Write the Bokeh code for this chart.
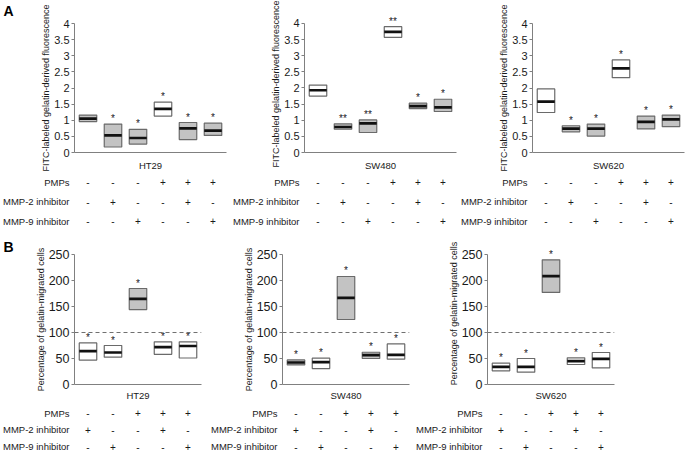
from bokeh.plotting import figure
from bokeh.models import (Range1d, FixedTicker, Span, NumeralTickFormatter,
                          ColumnDataSource, Title)
from bokeh.layouts import column, row
from bokeh.embed import file_html
from bokeh.resources import INLINE
from bokeh.core.properties import value

# ---------------- data ----------------
ROW_NAMES = ["PMPs", "MMP-2 inhibitor", "MMP-9 inhibitor"]
A_YLABEL = "FITC-labeled gelatin-derived fluorescence"
B_YLABEL = "Percentage of gelatin-migrated cells"
A_YTICKS = [0, 0.5, 1, 1.5, 2, 2.5, 3, 3.5, 4]
B_YTICKS = [0, 50, 100, 150, 200, 250]
B_REF_LINE = 100

# Panel A (6 conditions)
A_PMPS = ["-", "-", "-", "+", "+", "+"]
A_MMP2 = ["-", "+", "-", "-", "+", "-"]
A_MMP9 = ["-", "-", "+", "-", "-", "+"]

A_HT29_LOW = [0.96, 0.17, 0.26, 1.13, 0.40, 0.53]
A_HT29_MED = [1.05, 0.53, 0.45, 1.35, 0.75, 0.68]
A_HT29_HIGH = [1.16, 0.88, 0.72, 1.56, 0.93, 0.91]
A_HT29_FILL = ["gray", "gray", "gray", "white", "gray", "gray"]
A_HT29_SIG = ["", "*", "*", "*", "*", "*"]

A_SW480_LOW = [1.75, 0.72, 0.62, 3.57, 1.36, 1.27]
A_SW480_MED = [1.93, 0.79, 0.90, 3.74, 1.44, 1.40]
A_SW480_HIGH = [2.09, 0.89, 1.01, 3.90, 1.53, 1.65]
A_SW480_FILL = ["white", "gray", "gray", "white", "gray", "gray"]
A_SW480_SIG = ["", "**", "**", "**", "*", "*"]

A_SW620_LOW = [1.24, 0.64, 0.51, 2.32, 0.73, 0.80]
A_SW620_MED = [1.58, 0.74, 0.74, 2.61, 0.95, 1.03]
A_SW620_HIGH = [1.97, 0.83, 0.88, 2.87, 1.13, 1.16]
A_SW620_FILL = ["white", "gray", "gray", "white", "gray", "gray"]
A_SW620_SIG = ["", "*", "*", "*", "*", "*"]

# Panel B (5 conditions)
B_PMPS = ["-", "-", "+", "+", "+"]
B_MMP2 = ["+", "-", "-", "+", "-"]
B_MMP9 = ["-", "+", "-", "-", "+"]

B_HT29_LOW = [47, 52.5, 144, 58, 51]
B_HT29_MED = [64, 61.5, 164.6, 71.7, 74]
B_HT29_HIGH = [80, 75, 184.6, 82, 82]
B_HT29_FILL = ["white", "white", "gray", "white", "white"]
B_HT29_SIG = ["*", "*", "*", "*", "*"]

B_SW480_LOW = [37.7, 30.7, 125, 50, 48.7]
B_SW480_MED = [42.3, 42.9, 166.5, 56.3, 57]
B_SW480_HIGH = [47.3, 50.6, 207.7, 62, 78]
B_SW480_FILL = ["gray", "white", "gray", "gray", "white"]
B_SW480_SIG = ["*", "*", "*", "*", "*"]

B_SW620_LOW = [26.3, 23.7, 177, 38.5, 31.9]
B_SW620_MED = [33.9, 33.9, 208.3, 44.8, 49.3]
B_SW620_HIGH = [41, 50, 239.7, 51.3, 61.5]
B_SW620_FILL = ["white", "white", "gray", "white", "white"]
B_SW620_SIG = ["*", "*", "*", "*", "*"]

A_TABLE = [A_PMPS, A_MMP2, A_MMP9]
B_TABLE = [B_PMPS, B_MMP2, B_MMP9]

# ---------------- style ----------------
FONT = "Liberation Sans"
FILLS = {"gray": "#c3c3c3", "white": "#ffffff"}
BOX_W = 0.70
X_START = 0.46
AXIS_COL = "#808080"
TXT_COL = "#1a1a1a"


def plot_fig(cell, low, med, high, fills, sig, *, width, bl, br, bt, fh, bb, x_end,
             yticks, ylabel, tick_fs, ylab_standoff, xlab_standoff, pad=0,
             fmt=None, ref_line=None, letter=None, letter_valign="top",
             letter_standoff=0):
    n = len(low)
    xs = list(range(1, n + 1))
    y0, y1 = yticks[0], yticks[-1]
    y_end = y1 + pad * (y1 - y0) / fh
    p = figure(width=width, height=bt + fh + bb, output_backend="svg",
               toolbar_location=None, frame_align=False,
               x_range=Range1d(X_START, x_end), y_range=Range1d(y0, y_end),
               min_border_left=bl, min_border_right=br, min_border_top=bt - pad,
               min_border_bottom=bb)
    p.outline_line_color = None
    p.grid.visible = False

    ya = p.yaxis[0]
    ya.ticker = FixedTicker(ticks=yticks)
    ya.bounds = (y0, y1)
    if fmt is not None:
        ya.formatter = fmt
    ya.axis_line_color = AXIS_COL
    ya.major_tick_line_color = AXIS_COL
    ya.major_tick_out = 3
    ya.major_tick_in = 0
    ya.minor_tick_line_color = None
    ya.major_label_standoff = 2
    ya.major_label_text_font = FONT
    ya.major_label_text_font_size = tick_fs
    ya.major_label_text_color = TXT_COL
    ya.axis_label = ylabel
    ya.axis_label_text_font = FONT
    ya.axis_label_text_font_size = "9px"
    ya.axis_label_text_font_style = "normal"
    ya.axis_label_text_color = TXT_COL
    ya.axis_label_standoff = ylab_standoff

    xa = p.xaxis[0]
    xa.ticker = FixedTicker(ticks=[])
    xa.axis_line_color = AXIS_COL
    xa.major_tick_line_color = None
    xa.minor_tick_line_color = None
    xa.major_tick_out = 0
    xa.axis_label = cell
    xa.axis_label_text_font = FONT
    xa.axis_label_text_font_size = "9.5px"
    xa.axis_label_text_font_style = "normal"
    xa.axis_label_text_color = TXT_COL
    xa.axis_label_standoff = xlab_standoff

    if ref_line is not None:
        p.add_layout(Span(location=ref_line, dimension="width", line_color="#707070",
                          line_dash="4 3", line_width=1))

    src = ColumnDataSource(dict(
        x=xs, low=low, med=med, high=high,
        fill=[FILLS[f] for f in fills], sig=sig,
        x0=[x - BOX_W / 2 for x in xs], x1=[x + BOX_W / 2 for x in xs]))
    p.vbar(x="x", width=BOX_W, bottom="low", top="high", fill_color="fill",
           line_color="#6a6a6a", line_width=1.2, source=src)
    p.segment(x0="x0", x1="x1", y0="med", y1="med", line_color="#111111",
              line_width=2.7, source=src)
    p.text(x="x", y="high", text="sig", source=src, y_offset=0,
           text_align="center", text_baseline="bottom", text_font=value(FONT),
           text_font_size="10px", text_color=TXT_COL)

    if letter is not None:
        p.title = Title(text=letter, align="left", offset=3 - bl,
                        vertical_align=letter_valign, standoff=letter_standoff,
                        text_font=FONT, text_font_size="14px",
                        text_font_style="bold", text_color="#000000")
    return p


def table_fig(table, *, width, height, bl, br, fw, x_end, first_row, row_step):
    u = (x_end - X_START) / fw
    top = -first_row / row_step
    bottom = top + height / row_step
    t = figure(width=width, height=height, output_backend="svg", toolbar_location=None,
               frame_align=False,
               x_range=Range1d(X_START - bl * u, x_end + br * u),
               y_range=Range1d(bottom, top), x_axis_type=None, y_axis_type=None,
               min_border=0, min_border_left=0, min_border_right=0,
               min_border_top=0, min_border_bottom=0)
    t.outline_line_color = None
    t.grid.visible = False
    names = ColumnDataSource(dict(x=[X_START] * len(ROW_NAMES),
                                  y=list(range(len(ROW_NAMES))), t=ROW_NAMES))
    t.text(x="x", y="y", text="t", source=names, x_offset=-5, text_align="right",
           text_baseline="middle", text_font=value(FONT), text_font_size="9.5px",
           text_color=TXT_COL)
    xs, ys, ts = [], [], []
    for r, vals in enumerate(table):
        for j, v in enumerate(vals):
            xs.append(j + 1)
            ys.append(r)
            ts.append(v)
    cells = ColumnDataSource(dict(x=xs, y=ys, t=ts))
    t.text(x="x", y="y", text="t", source=cells, text_align="center",
           text_baseline="middle", text_font=value(FONT), text_font_size="10px",
           text_color=TXT_COL)
    return t


# ---------------- layout (pixels) ----------------
A_BT, A_FH, A_BB, A_TH = 23, 130, 20, 55
A_FW = 152
A_XEND = 6.54
B_BT, B_FH, B_BB, B_TH = 26, 130, 20, 54
B_FW = 127
B_XEND = 5.54

ca = dict(bt=A_BT, fh=A_FH, bb=A_BB, x_end=A_XEND, yticks=A_YTICKS, ylabel=A_YLABEL,
          tick_fs="11px", ylab_standoff=0, xlab_standoff=7)
cb = dict(bt=B_BT, fh=B_FH, bb=B_BB, x_end=B_XEND, yticks=B_YTICKS, ylabel=B_YLABEL,
          tick_fs="12.5px", ylab_standoff=0, xlab_standoff=5, ref_line=B_REF_LINE)

A_SPECS = [
    ("HT29", A_HT29_LOW, A_HT29_MED, A_HT29_HIGH, A_HT29_FILL, A_HT29_SIG, 228, 74, 2, 0, "A"),
    ("SW480", A_SW480_LOW, A_SW480_MED, A_SW480_HIGH, A_SW480_FILL, A_SW480_SIG, 230, 76, 2, 8, None),
    ("SW620", A_SW620_LOW, A_SW620_MED, A_SW620_HIGH, A_SW620_FILL, A_SW620_SIG, 227, 74, 1, 0, None),
]
B_SPECS = [
    ("HT29", B_HT29_LOW, B_HT29_MED, B_HT29_HIGH, B_HT29_FILL, B_HT29_SIG, 206, 74, 5, 0, "B"),
    ("SW480", B_SW480_LOW, B_SW480_MED, B_SW480_HIGH, B_SW480_FILL, B_SW480_SIG, 206, 76, 3, 0, None),
    ("SW620", B_SW620_LOW, B_SW620_MED, B_SW620_HIGH, B_SW620_FILL, B_SW620_SIG, 273, 75, 71, 12, None),
]

a_cols = []
for cell, lo, me, hi, fi, sg, w, bl, br, pad, let in A_SPECS:
    p = plot_fig(cell, lo, me, hi, fi, sg, width=w, bl=bl, br=br, pad=pad,
                 fmt=NumeralTickFormatter(format="0.[0]"),
                 letter=let, letter_valign="top", letter_standoff=5, **ca)
    t = table_fig(A_TABLE, width=w, height=A_TH, bl=bl, br=br, fw=A_FW, x_end=A_XEND,
                  first_row=8.7, row_step=19.5)
    a_cols.append(column(p, t, spacing=0))

b_cols = []
for cell, lo, me, hi, fi, sg, w, bl, br, pad, let in B_SPECS:
    p = plot_fig(cell, lo, me, hi, fi, sg, width=w, bl=bl, br=br, pad=pad,
                 letter=let, letter_valign="bottom", letter_standoff=0, **cb)
    t = table_fig(B_TABLE, width=w, height=B_TH, bl=bl, br=br, fw=B_FW, x_end=B_XEND,
                  first_row=8.5, row_step=16.75)
    b_cols.append(column(p, t, spacing=0))

layout = column(row(*a_cols, spacing=0), row(*b_cols, spacing=0), spacing=0)

with open("out.html", "w") as f:
    f.write(file_html(layout, INLINE))
